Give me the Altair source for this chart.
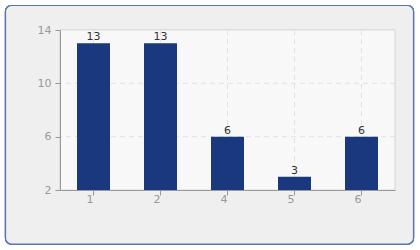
import altair as alt
import pandas as pd

categories = ["1", "2", "4", "5", "6"]
counts = [13, 13, 6, 3, 6]
y_ticks = [2, 6, 10, 14]

df = pd.DataFrame({"cat": categories, "count": counts})
grid_y = pd.DataFrame({"v": y_ticks[1:-1]})

W, H = 335, 160

x_scale = alt.Scale(domain=categories, paddingInner=0, paddingOuter=0)
y_scale = alt.Scale(domain=[2, 14], nice=False, zero=False)

axis_style = dict(
    labelColor="#999999", labelFontSize=11, labelPadding=4,
    tickColor="#999999", tickSize=5, domainColor="#999999",
    grid=False, zindex=1,
)

# rounded frame around the whole chart
frame = alt.Chart(df).mark_rect(
    fill="#efefef", stroke="#5b74ad", strokeWidth=1.2, cornerRadius=6, clip=False
).encode(
    x=alt.value(-54.5), x2=alt.value(353.5),
    y=alt.value(-24.5), y2=alt.value(214),
)

# plot-area fill
panel = alt.Chart(df).mark_rect(fill="#f8f8f8", stroke="#dddddd").encode(
    x=alt.value(0), x2=alt.value(W), y=alt.value(0), y2=alt.value(H),
)

# dashed grid lines
vgrid = alt.Chart(df).mark_rule(color="#e2e2e2", strokeDash=[5, 4]).encode(
    x=alt.X("cat:N", scale=x_scale, sort=categories),
)
hgrid = alt.Chart(grid_y).mark_rule(color="#e2e2e2", strokeDash=[5, 4]).encode(
    y=alt.Y("v:Q", scale=y_scale),
)

bars = alt.Chart(df).mark_bar(color="#19387d", size=33).encode(
    x=alt.X("cat:N", sort=categories, title=None, scale=x_scale,
            axis=alt.Axis(labelAngle=0, **axis_style)),
    y=alt.Y("count:Q", title=None, scale=y_scale,
            axis=alt.Axis(values=y_ticks, **axis_style)),
    y2=alt.datum(2),
)

labels = alt.Chart(df).mark_text(
    baseline="bottom", dy=-1, fontSize=11, color="#333333", font="DejaVu Sans"
).encode(
    x=alt.X("cat:N", sort=categories, scale=x_scale),
    y=alt.Y("count:Q", scale=y_scale),
    text=alt.Text("count:Q"),
)

chart = alt.layer(frame, panel, vgrid, hgrid, bars, labels).properties(
    width=W, height=H,
    autosize=alt.AutoSizeParams(type="none"),
    padding={"left": 60, "top": 30, "right": 25, "bottom": 60},
    background="white",
).configure_view(stroke=None).configure_axis(
    labelFont="DejaVu Sans", domainWidth=1
)

chart.save("out.html", embed_options={"renderer": "svg", "actions": False})
